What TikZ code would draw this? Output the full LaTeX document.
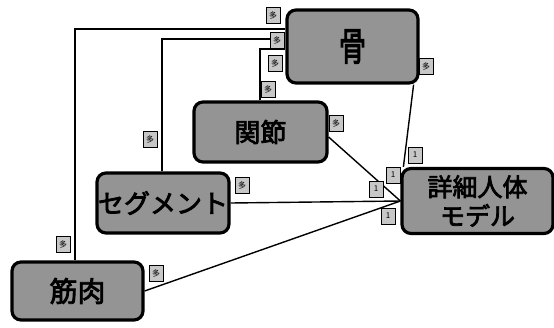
\documentclass[tikz,border=0pt]{standalone}
\usepackage{fontspec}
\usetikzlibrary{calc}
\newfontfamily\cjk{Noto Sans CJK JP}[FakeBold=3]
\newfontfamily\cjklab{Noto Sans CJK JP}
\begin{document}
\begin{tikzpicture}[x=1pt,y=-1pt,
  ent/.style={draw=black, line width=3.2pt, rounded corners=9pt, fill=black!42, text=black, inner sep=0pt, align=center, font=\cjk\fontsize{26}{28}\selectfont},
  lab/.style={draw=black, line width=0.8pt, fill=black!22, inner sep=0.5pt, minimum width=14pt, minimum height=16pt, font=\cjklab\fontsize{8}{8}\selectfont},
  conn/.style={line width=1.4pt}]
\useasboundingbox (0,0) rectangle (554,327);
\fill[white] (0,0) rectangle (554,327);

% bend points of the elbow connectors
\coordinate (k1) at (75,29);
\coordinate (k2) at (162,39);
\coordinate (k3) at (260,49);

% entity boxes
\node[ent, minimum width=131pt, minimum height=73pt] (bone) at (352.5,46.5) {\scalebox{1.05}[1.5]{骨}};
\node[ent, minimum width=133pt, minimum height=60pt] (joint) at (260.5,132) {関節};
\node[ent, minimum width=132pt, minimum height=60pt] (seg) at (163,203) {セグメント};
\node[ent, minimum width=151pt, minimum height=65pt, font=\cjk\fontsize{25}{29}\selectfont] (det) at (477.5,201) {詳細人体\\モデル};
\node[ent, minimum width=131pt, minimum height=58pt, font=\cjk\fontsize{28}{30}\selectfont] (mus) at (77.5,291) {筋肉};

% connectors
\draw[conn] (mus.north -| k1) -- (k1) -- (bone.west |- k1);
\draw[conn] (seg.north -| k2) -- (k2) -- (bone.west |- k2);
\draw[conn] (joint.north -| k3) -- (k3) -- (bone.west |- k3);
\draw[conn] ($(bone.south east)+(-6,0)$) -- ($(det.north west)+(3,0)$);
\draw[conn] ($(joint.east)+(0,5)$) -- (det.west);
\draw[conn] (seg.east) -- (det.west);
\draw[conn] (mus.east) -- (det.west);

% multiplicity labels
\node[lab] (l1) at (273,15) {多};
\node[lab] (l2) at (277,40) {多};
\node[lab] (l3) at (275,63) {多};
\node[lab] (l4) at (426,66) {多};
\node[lab] (l5) at (268,89) {多};
\node[lab] (l6) at (336,123) {多};
\node[lab] (l7) at (150,139) {多};
\node[lab] (l8) at (242,185) {多};
\node[lab] (l9) at (63,244) {多};
\node[lab] (l10) at (156,273) {多};
\node[lab] (l11) at (415,155) {1};
\node[lab] (l12) at (393,175) {1};
\node[lab] (l13) at (376,189) {1};
\node[lab] (l14) at (388,216) {1};
\end{tikzpicture}
\end{document}
